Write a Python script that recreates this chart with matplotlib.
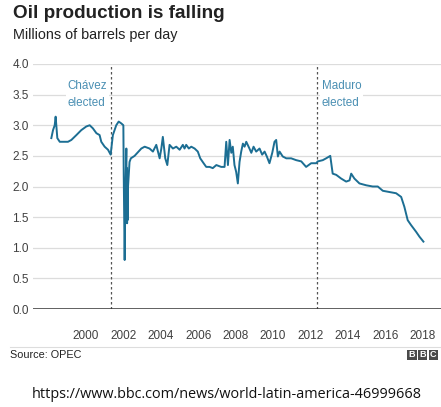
import matplotlib
matplotlib.use("Agg")
import matplotlib.pyplot as plt
from matplotlib.patches import Rectangle

plt.rcParams['font.family'] = ['Liberation Sans', 'DejaVu Sans']

# readings (decimal year, million barrels/day)
years = [1998.15, 1998.24, 1998.33, 1998.38, 1998.47, 1998.60, 1999.04, 1999.22,
         1999.49, 1999.75, 2000.02, 2000.20, 2000.37, 2000.56, 2000.73, 2000.82,
         2001.00, 2001.18, 2001.32, 2001.44, 2001.62, 2001.75, 2001.89, 2002.00,
         2002.02, 2002.07, 2002.11, 2002.16, 2002.18, 2002.19, 2002.20, 2002.21,
         2002.22, 2002.25, 2002.33, 2002.40, 2002.60, 2002.96, 2003.14, 2003.40,
         2003.58, 2003.76, 2003.94, 2004.03, 2004.11, 2004.24, 2004.35, 2004.47,
         2004.65, 2004.83, 2005.01, 2005.18, 2005.27, 2005.36, 2005.50, 2005.63,
         2005.81, 2005.98, 2006.11, 2006.29, 2006.43, 2006.61, 2006.78, 2006.97,
         2007.23, 2007.41, 2007.50, 2007.59, 2007.68, 2007.77, 2007.85, 2007.94,
         2008.03, 2008.12, 2008.21, 2008.30, 2008.39, 2008.48, 2008.57, 2008.74,
         2008.84, 2008.96, 2009.10, 2009.28, 2009.42, 2009.55, 2009.67, 2009.81,
         2009.96, 2010.08, 2010.17, 2010.26, 2010.35, 2010.52, 2010.71, 2010.97,
         2011.24, 2011.51, 2011.77, 2012.04, 2012.31, 2012.39, 2012.66, 2012.84,
         2013.06, 2013.19, 2013.38, 2013.64, 2013.91, 2014.09, 2014.18, 2014.35,
         2014.62, 2014.98, 2015.33, 2015.60, 2015.87, 2016.22, 2016.58, 2016.85,
         2017.02, 2017.20, 2017.38, 2017.65, 2017.83, 2018.04]
output = [2.79, 2.92, 3.00, 3.14, 2.79, 2.73, 2.73, 2.76,
          2.84, 2.92, 2.98, 3.00, 2.95, 2.87, 2.84, 2.73,
          2.65, 2.60, 2.52, 2.84, 3.00, 3.06, 3.03, 3.00,
          2.20, 0.80, 1.90, 2.62, 1.50, 2.30, 1.40, 2.10,
          1.45, 2.00, 2.40, 2.46, 2.50, 2.62, 2.65, 2.62,
          2.57, 2.68, 2.46, 2.62, 2.81, 2.46, 2.35, 2.68,
          2.62, 2.65, 2.60, 2.68, 2.62, 2.68, 2.62, 2.65,
          2.62, 2.57, 2.46, 2.38, 2.32, 2.32, 2.30, 2.35,
          2.32, 2.32, 2.73, 2.35, 2.76, 2.55, 2.65, 2.35,
          2.24, 2.05, 2.40, 2.57, 2.70, 2.65, 2.73, 2.62,
          2.55, 2.65, 2.57, 2.62, 2.52, 2.57, 2.49, 2.38,
          2.55, 2.73, 2.76, 2.49, 2.57, 2.49, 2.46, 2.46,
          2.43, 2.41, 2.32, 2.38, 2.38, 2.41, 2.43, 2.46,
          2.50, 2.21, 2.19, 2.13, 2.08, 2.10, 2.21, 2.13,
          2.05, 2.02, 2.00, 2.00, 1.93, 1.91, 1.89, 1.83,
          1.67, 1.45, 1.37, 1.26, 1.18, 1.10]

events = [2001.34, 2012.34]
event_labels = ["Chávez\nelected", "Maduro\nelected"]
event_text_x = [1999.02, 2012.6]
xticks = list(range(2000, 2019, 2))
yticks = [0.0, 0.5, 1.0, 1.5, 2.0, 2.5, 3.0, 3.5, 4.0]

line_col = "#1c6e93"
note_col = "#4a8fb3"
txt_col = "#404040"

fig = plt.figure(figsize=(4.41, 4.07), dpi=100)
ax = fig.add_axes([33 / 441, 1 - 309 / 407, 408 / 441, 245 / 407])

ax.plot(years, output, color=line_col, lw=1.4, zorder=3)
for ev in events:
    ax.axvline(ev, color="#555555", lw=0.9, ls=(0, (2, 2)), zorder=2)
for tx, lab in zip(event_text_x, event_labels):
    ax.text(tx, 3.5, lab, color=note_col, fontsize=8.4, ha="left", va="center",
            linespacing=1.5, zorder=4,
            bbox=dict(facecolor="white", edgecolor="none", pad=1.5))

ax.set_xlim(1997.17, 2018.98)
ax.set_ylim(0, 4)
ax.set_yticks(yticks)
ax.set_yticklabels([f"{v:.1f}" for v in yticks])
ax.set_xticks(xticks)
ax.set_xticklabels([str(y) for y in xticks])
ax.grid(axis="y", color="#dcdcdc", lw=0.9)
ax.set_axisbelow(True)
ax.axhline(0, color="#333333", lw=1.8, zorder=3)
for s in ax.spines.values():
    s.set_visible(False)
ax.tick_params(axis="both", length=0, labelsize=8.5, labelcolor=txt_col)
ax.tick_params(axis="x", pad=15)
ax.tick_params(axis="y", pad=3)

fig.text(13 / 441, 1 - 14 / 407, "Oil production is falling", fontsize=13.6,
         fontweight="bold", color="#222222", va="center", ha="left")
fig.text(13 / 441, 1 - 35 / 407, "Millions of barrels per day", fontsize=10.4,
         color="#222222", va="center", ha="left")

fig.add_artist(plt.Line2D([10 / 441, 1], [1 - 346.5 / 407] * 2,
                          transform=fig.transFigure, color="#dddddd", lw=0.8))
fig.text(10 / 441, 1 - 355 / 407, "Source: OPEC", fontsize=7.8, color="#222222",
         va="center", ha="left")
for i, letter in enumerate("BBC"):
    x0 = 407 + i * 10.8
    fig.add_artist(Rectangle((x0 / 441, 1 - 359.5 / 407), 9.5 / 441, 10 / 407,
                             transform=fig.transFigure, facecolor="#4a4a4a",
                             edgecolor="none"))
    fig.text((x0 + 4.75) / 441, 1 - 354.5 / 407, letter, fontsize=6.5,
             fontweight="bold", color="white", ha="center", va="center")

fig.text(227 / 441, 1 - 394 / 407, "https://www.bbc.com/news/world-latin-america-46999668",
         fontsize=10.4, color="#111111", ha="center", va="center",
         family=["Open Sans", "DejaVu Sans"])

fig.savefig("out.png", dpi=100)
